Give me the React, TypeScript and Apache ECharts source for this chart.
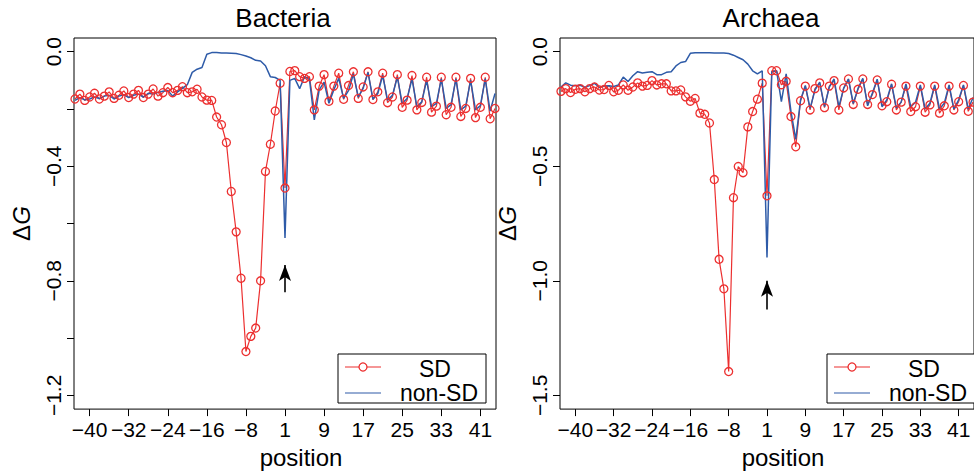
import React, { useEffect, useRef } from 'react';
import * as echarts from 'echarts';

// positions along the sequence (no position 0)
const positions = [
  -43, -42, -41, -40, -39, -38, -37, -36, -35, -34, -33, -32, -31, -30, -29, -28, -27, -26, -25, -24, -23, -22,
  -21, -20, -19, -18, -17, -16, -15, -14, -13, -12, -11, -10, -9, -8, -7, -6, -5, -4, -3, -2, -1,
  1, 2, 3, 4, 5, 6, 7, 8, 9, 10, 11, 12, 13, 14, 15, 16, 17, 18, 19, 20, 21, 22,
  23, 24, 25, 26, 27, 28, 29, 30, 31, 32, 33, 34, 35, 36, 37, 38, 39, 40, 41, 42, 43, 44,
];

const bacteriaSD = [
  -0.165, -0.148, -0.17, -0.158, -0.145, -0.165, -0.155, -0.14, -0.163, -0.152, -0.137, -0.16, -0.148, -0.135,
  -0.16, -0.148, -0.13, -0.155, -0.143, -0.125, -0.143, -0.135, -0.122, -0.143, -0.14, -0.131, -0.158, -0.169,
  -0.17, -0.228, -0.255, -0.317, -0.488, -0.629, -0.791, -1.047, -0.994, -0.965, -0.8, -0.418, -0.323, -0.207,
  -0.11, -0.476, -0.069, -0.066, -0.087, -0.093, -0.087, -0.203, -0.12, -0.08, -0.173, -0.12, -0.075, -0.166,
  -0.118, -0.07, -0.163, -0.123, -0.07, -0.167, -0.14, -0.075, -0.178, -0.158, -0.08, -0.194, -0.169, -0.083,
  -0.203, -0.177, -0.089, -0.211, -0.19, -0.089, -0.22, -0.194, -0.089, -0.226, -0.198, -0.093, -0.23, -0.194,
  -0.089, -0.234, -0.198,
];

const bacteriaNonSD = [
  -0.17, -0.16, -0.168, -0.165, -0.158, -0.163, -0.155, -0.152, -0.165, -0.155, -0.15, -0.16, -0.152, -0.148,
  -0.158, -0.145, -0.148, -0.142, -0.138, -0.135, -0.155, -0.14, -0.128, -0.115, -0.072, -0.061, -0.055, -0.009,
  -0.003, -0.003, -0.004, -0.004, -0.005, -0.006, -0.01, -0.015, -0.021, -0.03, -0.032, -0.049, -0.087, -0.09,
  -0.1, -0.65, -0.1, -0.093, -0.129, -0.087, -0.095, -0.238, -0.133, -0.106, -0.18, -0.133, -0.093, -0.163,
  -0.136, -0.078, -0.158, -0.128, -0.072, -0.166, -0.146, -0.083, -0.169, -0.152, -0.089, -0.18, -0.163, -0.095,
  -0.192, -0.175, -0.1, -0.192, -0.18, -0.095, -0.198, -0.185, -0.095, -0.203, -0.19, -0.1, -0.203, -0.188,
  -0.095, -0.207, -0.146,
];

const archaeaSD = [
  -0.173, -0.161, -0.178, -0.164, -0.161, -0.175, -0.161, -0.154, -0.167, -0.165, -0.147, -0.175, -0.168, -0.145,
  -0.168, -0.154, -0.136, -0.15, -0.147, -0.126, -0.145, -0.14, -0.14, -0.171, -0.171, -0.167, -0.197, -0.216,
  -0.204, -0.268, -0.273, -0.311, -0.558, -0.906, -1.035, -1.396, -0.637, -0.501, -0.528, -0.328, -0.261, -0.207,
  -0.137, -0.629, -0.083, -0.083, -0.144, -0.129, -0.283, -0.415, -0.214, -0.15, -0.254, -0.161, -0.136, -0.244,
  -0.15, -0.126, -0.254, -0.158, -0.119, -0.23, -0.164, -0.119, -0.23, -0.187, -0.123, -0.236, -0.218, -0.142,
  -0.254, -0.22, -0.15, -0.261, -0.24, -0.15, -0.264, -0.232, -0.15, -0.268, -0.236, -0.15, -0.254, -0.218,
  -0.147, -0.26, -0.22,
];

const archaeaNonSD = [
  -0.154, -0.136, -0.146, -0.148, -0.146, -0.155, -0.148, -0.138, -0.155, -0.15, -0.148, -0.152, -0.145, -0.111,
  -0.13, -0.105, -0.087, -0.093, -0.09, -0.087, -0.1, -0.1, -0.09, -0.087, -0.062, -0.047, -0.043, -0.007,
  -0.004, -0.004, -0.004, -0.004, -0.005, -0.005, -0.006, -0.008, -0.015, -0.025, -0.035, -0.054, -0.083, -0.097,
  -0.083, -0.898, -0.087, -0.083, -0.218, -0.097, -0.26, -0.383, -0.211, -0.147, -0.247, -0.168, -0.133, -0.24,
  -0.154, -0.119, -0.24, -0.16, -0.119, -0.226, -0.16, -0.116, -0.236, -0.18, -0.12, -0.24, -0.21, -0.14,
  -0.245, -0.22, -0.14, -0.24, -0.22, -0.145, -0.25, -0.225, -0.145, -0.25, -0.225, -0.145, -0.25, -0.21,
  -0.145, -0.25, -0.2,
];

const xTickPositions = [-40, -32, -24, -16, -8, 1, 9, 17, 25, 33, 41];
const bacteriaYTicks = [0, -0.2, -0.4, -0.6, -0.8, -1.0, -1.2];
const bacteriaYLabels = [0, -0.4, -0.8, -1.2];
const archaeaYTicks = [0, -0.5, -1.0, -1.5];
const panelTitles = ['Bacteria', 'Archaea'];
const legendNames = ['SD', 'non-SD'];
// arrow marking position 1: [bottom, tip] in ΔG units
const bacteriaArrow = [-0.84, -0.745];
const archaeaArrow = [-1.125, -1.0];

const RED = '#EC2F2F';
const BLUE = '#2E5BA8';
const FONT = 'Liberation Sans, Arial, Helvetica, sans-serif';

const toIndex = (p: number) => (p < 0 ? p + 40 : p + 39);
const fromIndex = (i: number) => (i < 40 ? i - 40 : i - 39);
const minus = (s: string) => s.replace('-', '\u2212');

export default function App() {
  const ref = useRef<HTMLDivElement>(null);
  useEffect(() => {
    document.body.style.margin = '0';
    const chart = echarts.init(ref.current!, null, { renderer: 'svg' });
    const xs = positions.map(toIndex);
    const pair = (vals: number[]) => vals.map((v, k) => [xs[k], v]);

    const grids = [
      { left: 74, top: 38, width: 422, height: 378 },
      { left: 560, top: 38, width: 423, height: 378 },
    ];
    const yRanges = [
      { min: -1.248, max: 0.048, ticks: bacteriaYTicks, labels: bacteriaYLabels },
      { min: -1.56, max: 0.06, ticks: archaeaYTicks, labels: archaeaYTicks },
    ];
    const xIdx = xTickPositions.map(toIndex);

    const xAxis = grids.map((_, g) => ({
      type: 'value',
      gridIndex: g,
      position: 'bottom',
      min: -3.2,
      max: 83.2,
      axisLine: { show: false, onZero: false },
      splitLine: { show: false },
      axisTick: { show: true, length: 7, customValues: xIdx, lineStyle: { color: '#000', width: 1 } },
      axisLabel: {
        customValues: xIdx,
        formatter: (v: number) => minus(String(fromIndex(Math.round(v)))),
        color: '#000',
        fontFamily: FONT,
        fontSize: 21,
        margin: 10,
      },
      name: 'position',
      nameLocation: 'middle',
      nameGap: 30,
      nameTextStyle: { color: '#000', fontFamily: FONT, fontSize: 24, padding: [0, 0, 0, 32] },
    }));

    const yAxis = grids.map((_, g) => ({
      type: 'value',
      gridIndex: g,
      position: 'left',
      min: yRanges[g].min,
      max: yRanges[g].max,
      axisLine: { show: false, onZero: false },
      splitLine: { show: false },
      axisTick: { show: true, length: 7, customValues: yRanges[g].ticks, lineStyle: { color: '#000', width: 1 } },
      axisLabel: {
        customValues: yRanges[g].labels,
        formatter: (v: number) => minus(v.toFixed(1)),
        rotate: 90,
        color: '#000',
        fontFamily: FONT,
        fontSize: 21,
        margin: 10,
      },
      name: '{d|\u0394}{g|G}',
      nameLocation: 'middle',
      nameGap: 41,
      nameRotate: 90,
      nameTextStyle: {
        color: '#000',
        fontFamily: FONT,
        fontSize: 24,
        rich: {
          d: { fontFamily: FONT, fontSize: 24, color: '#000' },
          g: { fontFamily: FONT, fontSize: 24, color: '#000', fontStyle: 'italic' },
        },
      },
    }));

    const sdData = [bacteriaSD, archaeaSD];
    const nonData = [bacteriaNonSD, archaeaNonSD];
    const arrows = [bacteriaArrow, archaeaArrow];
    const series: any[] = [];
    grids.forEach((_, g) => {
      series.push({
        type: 'line',
        name: legendNames[0],
        xAxisIndex: g,
        yAxisIndex: g,
        data: pair(sdData[g]),
        symbol: 'circle',
        symbolSize: 8,
        showAllSymbol: true,
        color: RED,
        lineStyle: { color: RED, width: 1.2 },
        itemStyle: { color: 'rgba(0,0,0,0)', borderColor: RED, borderWidth: 1.3 },
        emphasis: { disabled: true },
      });
      series.push({
        type: 'line',
        name: legendNames[1],
        xAxisIndex: g,
        yAxisIndex: g,
        data: pair(nonData[g]),
        symbol: 'none',
        color: BLUE,
        lineStyle: { color: BLUE, width: 1.5 },
        emphasis: { disabled: true },
        markLine: {
          silent: true,
          symbol: ['none', 'arrow'],
          symbolSize: [9, 16],
          label: { show: false },
          lineStyle: { color: '#000', width: 1.6, type: 'solid' },
          emphasis: { disabled: true },
          data: [[{ coord: [toIndex(1), arrows[g][0]] }, { coord: [toIndex(1), arrows[g][1]] }]],
        },
      });
    });

    const textStyle = (text: string, size: number, lineHeight?: number) => ({
      text,
      fontSize: size,
      fontFamily: FONT,
      fill: '#000',
      align: 'center',
      verticalAlign: 'middle',
      ...(lineHeight ? { lineHeight } : {}),
    });

    const legendGraphic = (x0: number) => ({
      type: 'group',
      x: x0,
      y: 354,
      children: [
        { type: 'rect', shape: { x: 0, y: 0, width: 148, height: 49 }, style: { fill: '#fff', stroke: '#000', lineWidth: 1 } },
        { type: 'line', shape: { x1: 7, y1: 13, x2: 43, y2: 13 }, style: { stroke: RED, lineWidth: 1.2 } },
        { type: 'circle', shape: { cx: 25, cy: 13, r: 4 }, style: { fill: '#fff', stroke: RED, lineWidth: 1.3 } },
        { type: 'line', shape: { x1: 7, y1: 39, x2: 43, y2: 39 }, style: { stroke: BLUE, lineWidth: 1.2 } },
        { type: 'text', x: 97, y: 15, style: textStyle(legendNames[0], 23, 22) },
        { type: 'text', x: 101, y: 39, style: textStyle(legendNames[1], 23, 22) },
      ],
    });

    chart.setOption({
      animation: false,
      grid: grids.map((g) => ({ ...g, show: true, borderColor: '#000', borderWidth: 1, backgroundColor: 'transparent', containLabel: false })),
      xAxis,
      yAxis,
      series,
      graphic: [
        { type: 'text', x: 283, y: 18, style: textStyle(panelTitles[0], 26) },
        { type: 'text', x: 771, y: 18, style: textStyle(panelTitles[1], 26) },
        legendGraphic(338),
        legendGraphic(827),
      ],
    });
    return () => chart.dispose();
  }, []);
  return <div ref={ref} style={{ width: 974, height: 474 }} />;
}
